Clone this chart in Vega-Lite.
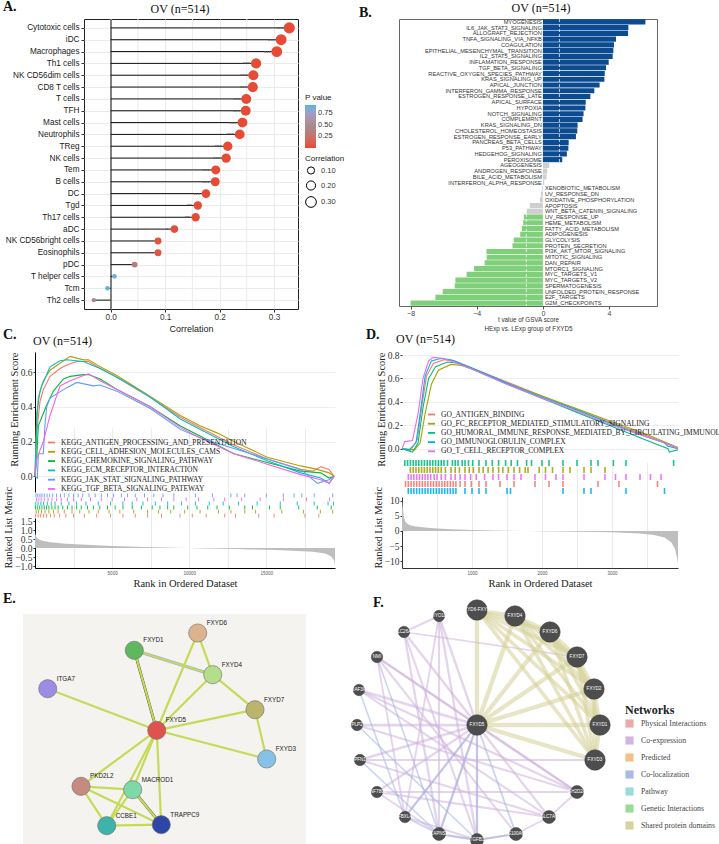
{
"$schema": "https://vega.github.io/schema/vega-lite/v6.json",
"padding": {"left": 3, "top": 0, "right": 0, "bottom": 0},
"background": "white",
"config": {
  "view": {"stroke": null},
  "font": "Liberation Sans",
  "axis": {"labelFont": "Liberation Sans", "titleFont": "Liberation Sans", "titleFontWeight": "normal", "labelColor": "#333333", "titleColor": "#222222", "domainColor": "#333333", "tickColor": "#333333", "gridColor": "#ebebeb", "labelOverlap": false},
  "legend": {"labelFont": "Liberation Sans", "titleFont": "Liberation Sans", "titleFontWeight": "normal", "labelColor": "#333333", "titleColor": "#222222", "padding": 0},
  "title": {"font": "Liberation Serif", "fontWeight": "normal", "color": "#111111"}
},
"spacing": -7,
"resolve": {"scale": {"color": "independent", "fill": "independent", "stroke": "independent", "strokeWidth": "independent", "size": "independent"}},
"datasets": {
  "cells": [
    {"cell": "Cytotoxic cells", "cor": 0.328, "p": 0.005, "sig": "***"},
    {"cell": "iDC", "cor": 0.313, "p": 0.005, "sig": "***"},
    {"cell": "Macrophages", "cor": 0.305, "p": 0.005, "sig": "***"},
    {"cell": "Th1 cells", "cor": 0.267, "p": 0.005, "sig": "***"},
    {"cell": "NK CD56dim cells", "cor": 0.262, "p": 0.005, "sig": "***"},
    {"cell": "CD8 T cells", "cor": 0.261, "p": 0.005, "sig": "***"},
    {"cell": "T cells", "cor": 0.249, "p": 0.005, "sig": "***"},
    {"cell": "TFH", "cor": 0.248, "p": 0.005, "sig": "***"},
    {"cell": "Mast cells", "cor": 0.242, "p": 0.005, "sig": "***"},
    {"cell": "Neutrophils", "cor": 0.237, "p": 0.005, "sig": "***"},
    {"cell": "TReg", "cor": 0.215, "p": 0.005, "sig": "***"},
    {"cell": "NK cells", "cor": 0.212, "p": 0.005, "sig": "***"},
    {"cell": "Tem", "cor": 0.193, "p": 0.005, "sig": "***"},
    {"cell": "B cells", "cor": 0.192, "p": 0.005, "sig": "***"},
    {"cell": "DC", "cor": 0.175, "p": 0.005, "sig": "***"},
    {"cell": "Tgd", "cor": 0.16, "p": 0.006, "sig": "**"},
    {"cell": "Th17 cells", "cor": 0.156, "p": 0.007, "sig": "**"},
    {"cell": "aDC", "cor": 0.117, "p": 0.02, "sig": "*"},
    {"cell": "NK CD56bright cells", "cor": 0.087, "p": 0.05, "sig": ""},
    {"cell": "Eosinophils", "cor": 0.087, "p": 0.05, "sig": ""},
    {"cell": "pDC", "cor": 0.044, "p": 0.32, "sig": ""},
    {"cell": "T helper cells", "cor": 0.007, "p": 0.87, "sig": ""},
    {"cell": "Tcm", "cor": -0.006, "p": 0.9, "sig": ""},
    {"cell": "Th2 cells", "cor": -0.031, "p": 0.47, "sig": ""}
  ],
  "minor": [{"v": 0.05}, {"v": 0.15}, {"v": 0.25}],
  "gsva": [
    {"name": "MYOGENESIS", "t": 6.2, "grp": "up"},
    {"name": "IL6_JAK_STAT3_SIGNALING", "t": 5.17, "grp": "up"},
    {"name": "ALLOGRAFT_REJECTION", "t": 5.15, "grp": "up"},
    {"name": "TNFA_SIGNALING_VIA_NFKB", "t": 4.42, "grp": "up"},
    {"name": "COAGULATION", "t": 4.3, "grp": "up"},
    {"name": "EPITHELIAL_MESENCHYMAL_TRANSITION", "t": 4.26, "grp": "up"},
    {"name": "IL2_STAT5_SIGNALING", "t": 4.22, "grp": "up"},
    {"name": "INFLAMATION_RESPONSE", "t": 3.98, "grp": "up"},
    {"name": "TGF_BETA_SIGNALING", "t": 3.82, "grp": "up"},
    {"name": "REACTIVE_OXYGEN_SPECIES_PATHWAY", "t": 3.74, "grp": "up"},
    {"name": "KRAS_SIGNALING_UP", "t": 3.72, "grp": "up"},
    {"name": "APICAL_JUNCTION", "t": 3.43, "grp": "up"},
    {"name": "INTERFERON_GAMMA_RESPONSE", "t": 3.11, "grp": "up"},
    {"name": "ESTROGEN_RESPONSE_LATE", "t": 2.87, "grp": "up"},
    {"name": "APICAL_SURFACE", "t": 2.59, "grp": "up"},
    {"name": "HYPOXIA", "t": 2.57, "grp": "up"},
    {"name": "NOTCH_SIGNALING", "t": 2.46, "grp": "up"},
    {"name": "COMPLEMRNT", "t": 2.4, "grp": "up"},
    {"name": "KRAS_SIGNALING_DN", "t": 2.1, "grp": "up"},
    {"name": "CHOLESTEROL_HOMEOSTASIS", "t": 2.08, "grp": "up"},
    {"name": "ESTROGEN_RESPONSE_EARLY", "t": 2.0, "grp": "up"},
    {"name": "PANCREAS_BETA_CELLS", "t": 1.56, "grp": "up"},
    {"name": "P53_PATHWAY", "t": 1.54, "grp": "up"},
    {"name": "HEDGEHOG_SIGNALING", "t": 1.45, "grp": "up"},
    {"name": "PEROXISOME", "t": 1.17, "grp": "up"},
    {"name": "AGEOGENESIS", "t": 0.38, "grp": "ns"},
    {"name": "ANDROGEN_RESPONSE", "t": 0.26, "grp": "ns"},
    {"name": "BILE_ACID_METABOLISM", "t": 0.22, "grp": "ns"},
    {"name": "INTERFERON_ALPHA_RESPONSE", "t": 0.08, "grp": "ns"},
    {"name": "XENOBIOTIC_METABOLISM", "t": -0.04, "grp": "ns"},
    {"name": "UV_RESPONSE_DN", "t": -0.12, "grp": "ns"},
    {"name": "OXIDATIVE_PHOSPHORYLATION", "t": -0.18, "grp": "ns"},
    {"name": "APOPTOSIS", "t": -0.79, "grp": "ns"},
    {"name": "WNT_BETA_CATENIN_SIGNALING", "t": -0.99, "grp": "ns"},
    {"name": "UV_RESPONSE_UP", "t": -1.15, "grp": "down"},
    {"name": "HEME_METABOLISM", "t": -1.19, "grp": "down"},
    {"name": "FATTY_ACID_METABOLISM", "t": -1.27, "grp": "down"},
    {"name": "ADIPOGENESIS", "t": -1.37, "grp": "down"},
    {"name": "GLYCOLYSIS", "t": -1.76, "grp": "down"},
    {"name": "PROTEIN_SECRETION", "t": -1.84, "grp": "down"},
    {"name": "PI3K_AKT_MTOR_SIGNALING", "t": -3.41, "grp": "down"},
    {"name": "MITOTIC_SIGNALING", "t": -3.4, "grp": "down"},
    {"name": "DAN_REPAIR", "t": -3.52, "grp": "down"},
    {"name": "MTORC1_SIGNALING", "t": -4.16, "grp": "down"},
    {"name": "MYC_TARGETS_V1", "t": -4.61, "grp": "down"},
    {"name": "MYC_TARGETS_V2", "t": -5.29, "grp": "down"},
    {"name": "SPERMATOGENESIS", "t": -5.33, "grp": "down"},
    {"name": "UNFOLDED_PROTEIN_RESPONSE", "t": -6.06, "grp": "down"},
    {"name": "E2F_TARGETS", "t": -6.5, "grp": "down"},
    {"name": "G2M_CHECKPOINTS", "t": -8.0, "grp": "down"}
  ],
  "ces": [
    {"set": "KEGG_ANTIGEN_PROCESSING_AND_PRESENTATION", "rank": 0, "es": 0},
    {"set": "KEGG_ANTIGEN_PROCESSING_AND_PRESENTATION", "rank": 108, "es": 0.25},
    {"set": "KEGG_ANTIGEN_PROCESSING_AND_PRESENTATION", "rank": 325, "es": 0.43},
    {"set": "KEGG_ANTIGEN_PROCESSING_AND_PRESENTATION", "rank": 542, "es": 0.5},
    {"set": "KEGG_ANTIGEN_PROCESSING_AND_PRESENTATION", "rank": 975, "es": 0.575},
    {"set": "KEGG_ANTIGEN_PROCESSING_AND_PRESENTATION", "rank": 1625, "es": 0.62},
    {"set": "KEGG_ANTIGEN_PROCESSING_AND_PRESENTATION", "rank": 2058, "es": 0.64},
    {"set": "KEGG_ANTIGEN_PROCESSING_AND_PRESENTATION", "rank": 2708, "es": 0.66},
    {"set": "KEGG_ANTIGEN_PROCESSING_AND_PRESENTATION", "rank": 3467, "es": 0.66},
    {"set": "KEGG_ANTIGEN_PROCESSING_AND_PRESENTATION", "rank": 4225, "es": 0.62},
    {"set": "KEGG_ANTIGEN_PROCESSING_AND_PRESENTATION", "rank": 5308, "es": 0.57},
    {"set": "KEGG_ANTIGEN_PROCESSING_AND_PRESENTATION", "rank": 6392, "es": 0.51},
    {"set": "KEGG_ANTIGEN_PROCESSING_AND_PRESENTATION", "rank": 7475, "es": 0.455},
    {"set": "KEGG_ANTIGEN_PROCESSING_AND_PRESENTATION", "rank": 9425, "es": 0.34},
    {"set": "KEGG_ANTIGEN_PROCESSING_AND_PRESENTATION", "rank": 10725, "es": 0.28},
    {"set": "KEGG_ANTIGEN_PROCESSING_AND_PRESENTATION", "rank": 12892, "es": 0.18},
    {"set": "KEGG_ANTIGEN_PROCESSING_AND_PRESENTATION", "rank": 15058, "es": 0.1},
    {"set": "KEGG_ANTIGEN_PROCESSING_AND_PRESENTATION", "rank": 17225, "es": 0.04},
    {"set": "KEGG_ANTIGEN_PROCESSING_AND_PRESENTATION", "rank": 18000, "es": 0.03},
    {"set": "KEGG_ANTIGEN_PROCESSING_AND_PRESENTATION", "rank": 18525, "es": 0.055},
    {"set": "KEGG_ANTIGEN_PROCESSING_AND_PRESENTATION", "rank": 19067, "es": 0.04},
    {"set": "KEGG_ANTIGEN_PROCESSING_AND_PRESENTATION", "rank": 19392, "es": 0.0},
    {"set": "KEGG_CELL_ADHESION_MOLECULES_CAMS", "rank": 0, "es": 0},
    {"set": "KEGG_CELL_ADHESION_MOLECULES_CAMS", "rank": 108, "es": 0.36},
    {"set": "KEGG_CELL_ADHESION_MOLECULES_CAMS", "rank": 325, "es": 0.49},
    {"set": "KEGG_CELL_ADHESION_MOLECULES_CAMS", "rank": 542, "es": 0.55},
    {"set": "KEGG_CELL_ADHESION_MOLECULES_CAMS", "rank": 975, "es": 0.61},
    {"set": "KEGG_CELL_ADHESION_MOLECULES_CAMS", "rank": 1625, "es": 0.65},
    {"set": "KEGG_CELL_ADHESION_MOLECULES_CAMS", "rank": 2275, "es": 0.69},
    {"set": "KEGG_CELL_ADHESION_MOLECULES_CAMS", "rank": 3142, "es": 0.67},
    {"set": "KEGG_CELL_ADHESION_MOLECULES_CAMS", "rank": 3467, "es": 0.67},
    {"set": "KEGG_CELL_ADHESION_MOLECULES_CAMS", "rank": 4225, "es": 0.63},
    {"set": "KEGG_CELL_ADHESION_MOLECULES_CAMS", "rank": 5308, "es": 0.58},
    {"set": "KEGG_CELL_ADHESION_MOLECULES_CAMS", "rank": 6392, "es": 0.52},
    {"set": "KEGG_CELL_ADHESION_MOLECULES_CAMS", "rank": 7475, "es": 0.46},
    {"set": "KEGG_CELL_ADHESION_MOLECULES_CAMS", "rank": 9425, "es": 0.35},
    {"set": "KEGG_CELL_ADHESION_MOLECULES_CAMS", "rank": 10725, "es": 0.29},
    {"set": "KEGG_CELL_ADHESION_MOLECULES_CAMS", "rank": 11800, "es": 0.25},
    {"set": "KEGG_CELL_ADHESION_MOLECULES_CAMS", "rank": 12892, "es": 0.2},
    {"set": "KEGG_CELL_ADHESION_MOLECULES_CAMS", "rank": 15058, "es": 0.11},
    {"set": "KEGG_CELL_ADHESION_MOLECULES_CAMS", "rank": 17225, "es": 0.06},
    {"set": "KEGG_CELL_ADHESION_MOLECULES_CAMS", "rank": 18308, "es": 0.04},
    {"set": "KEGG_CELL_ADHESION_MOLECULES_CAMS", "rank": 19067, "es": 0.02},
    {"set": "KEGG_CELL_ADHESION_MOLECULES_CAMS", "rank": 19392, "es": 0.0},
    {"set": "KEGG_CHEMOKINE_SIGNALING_PATHWAY", "rank": 0, "es": 0},
    {"set": "KEGG_CHEMOKINE_SIGNALING_PATHWAY", "rank": 108, "es": 0.1},
    {"set": "KEGG_CHEMOKINE_SIGNALING_PATHWAY", "rank": 217, "es": 0.29},
    {"set": "KEGG_CHEMOKINE_SIGNALING_PATHWAY", "rank": 758, "es": 0.41},
    {"set": "KEGG_CHEMOKINE_SIGNALING_PATHWAY", "rank": 1192, "es": 0.49},
    {"set": "KEGG_CHEMOKINE_SIGNALING_PATHWAY", "rank": 1842, "es": 0.56},
    {"set": "KEGG_CHEMOKINE_SIGNALING_PATHWAY", "rank": 2275, "es": 0.575},
    {"set": "KEGG_CHEMOKINE_SIGNALING_PATHWAY", "rank": 3142, "es": 0.585},
    {"set": "KEGG_CHEMOKINE_SIGNALING_PATHWAY", "rank": 3467, "es": 0.585},
    {"set": "KEGG_CHEMOKINE_SIGNALING_PATHWAY", "rank": 4225, "es": 0.56},
    {"set": "KEGG_CHEMOKINE_SIGNALING_PATHWAY", "rank": 5308, "es": 0.5},
    {"set": "KEGG_CHEMOKINE_SIGNALING_PATHWAY", "rank": 6392, "es": 0.45},
    {"set": "KEGG_CHEMOKINE_SIGNALING_PATHWAY", "rank": 7475, "es": 0.4},
    {"set": "KEGG_CHEMOKINE_SIGNALING_PATHWAY", "rank": 9425, "es": 0.29},
    {"set": "KEGG_CHEMOKINE_SIGNALING_PATHWAY", "rank": 10725, "es": 0.23},
    {"set": "KEGG_CHEMOKINE_SIGNALING_PATHWAY", "rank": 12892, "es": 0.13},
    {"set": "KEGG_CHEMOKINE_SIGNALING_PATHWAY", "rank": 15058, "es": 0.08},
    {"set": "KEGG_CHEMOKINE_SIGNALING_PATHWAY", "rank": 17225, "es": 0.03},
    {"set": "KEGG_CHEMOKINE_SIGNALING_PATHWAY", "rank": 18525, "es": 0.02},
    {"set": "KEGG_CHEMOKINE_SIGNALING_PATHWAY", "rank": 19067, "es": -0.01},
    {"set": "KEGG_CHEMOKINE_SIGNALING_PATHWAY", "rank": 19392, "es": 0.0},
    {"set": "KEGG_ECM_RECEPTOR_INTERACTION", "rank": 0, "es": 0},
    {"set": "KEGG_ECM_RECEPTOR_INTERACTION", "rank": 108, "es": 0.3},
    {"set": "KEGG_ECM_RECEPTOR_INTERACTION", "rank": 217, "es": 0.45},
    {"set": "KEGG_ECM_RECEPTOR_INTERACTION", "rank": 433, "es": 0.52},
    {"set": "KEGG_ECM_RECEPTOR_INTERACTION", "rank": 975, "es": 0.63},
    {"set": "KEGG_ECM_RECEPTOR_INTERACTION", "rank": 1625, "es": 0.665},
    {"set": "KEGG_ECM_RECEPTOR_INTERACTION", "rank": 2058, "es": 0.67},
    {"set": "KEGG_ECM_RECEPTOR_INTERACTION", "rank": 3142, "es": 0.66},
    {"set": "KEGG_ECM_RECEPTOR_INTERACTION", "rank": 4225, "es": 0.62},
    {"set": "KEGG_ECM_RECEPTOR_INTERACTION", "rank": 5308, "es": 0.57},
    {"set": "KEGG_ECM_RECEPTOR_INTERACTION", "rank": 6392, "es": 0.515},
    {"set": "KEGG_ECM_RECEPTOR_INTERACTION", "rank": 7475, "es": 0.455},
    {"set": "KEGG_ECM_RECEPTOR_INTERACTION", "rank": 9425, "es": 0.33},
    {"set": "KEGG_ECM_RECEPTOR_INTERACTION", "rank": 10725, "es": 0.27},
    {"set": "KEGG_ECM_RECEPTOR_INTERACTION", "rank": 12892, "es": 0.17},
    {"set": "KEGG_ECM_RECEPTOR_INTERACTION", "rank": 15058, "es": 0.09},
    {"set": "KEGG_ECM_RECEPTOR_INTERACTION", "rank": 17225, "es": 0.02},
    {"set": "KEGG_ECM_RECEPTOR_INTERACTION", "rank": 18525, "es": -0.01},
    {"set": "KEGG_ECM_RECEPTOR_INTERACTION", "rank": 19067, "es": -0.04},
    {"set": "KEGG_ECM_RECEPTOR_INTERACTION", "rank": 19392, "es": 0.0},
    {"set": "KEGG_JAK_STAT_SIGNALING_PATHWAY", "rank": 0, "es": 0},
    {"set": "KEGG_JAK_STAT_SIGNALING_PATHWAY", "rank": 150, "es": -0.01},
    {"set": "KEGG_JAK_STAT_SIGNALING_PATHWAY", "rank": 220, "es": 0.13},
    {"set": "KEGG_JAK_STAT_SIGNALING_PATHWAY", "rank": 540, "es": 0.13},
    {"set": "KEGG_JAK_STAT_SIGNALING_PATHWAY", "rank": 650, "es": 0.3},
    {"set": "KEGG_JAK_STAT_SIGNALING_PATHWAY", "rank": 758, "es": 0.4},
    {"set": "KEGG_JAK_STAT_SIGNALING_PATHWAY", "rank": 975, "es": 0.45},
    {"set": "KEGG_JAK_STAT_SIGNALING_PATHWAY", "rank": 2058, "es": 0.51},
    {"set": "KEGG_JAK_STAT_SIGNALING_PATHWAY", "rank": 2708, "es": 0.54},
    {"set": "KEGG_JAK_STAT_SIGNALING_PATHWAY", "rank": 3792, "es": 0.52},
    {"set": "KEGG_JAK_STAT_SIGNALING_PATHWAY", "rank": 4225, "es": 0.525},
    {"set": "KEGG_JAK_STAT_SIGNALING_PATHWAY", "rank": 5308, "es": 0.49},
    {"set": "KEGG_JAK_STAT_SIGNALING_PATHWAY", "rank": 6392, "es": 0.44},
    {"set": "KEGG_JAK_STAT_SIGNALING_PATHWAY", "rank": 7475, "es": 0.39},
    {"set": "KEGG_JAK_STAT_SIGNALING_PATHWAY", "rank": 9425, "es": 0.27},
    {"set": "KEGG_JAK_STAT_SIGNALING_PATHWAY", "rank": 10725, "es": 0.22},
    {"set": "KEGG_JAK_STAT_SIGNALING_PATHWAY", "rank": 12892, "es": 0.16},
    {"set": "KEGG_JAK_STAT_SIGNALING_PATHWAY", "rank": 15058, "es": 0.1},
    {"set": "KEGG_JAK_STAT_SIGNALING_PATHWAY", "rank": 17225, "es": 0.04},
    {"set": "KEGG_JAK_STAT_SIGNALING_PATHWAY", "rank": 18308, "es": -0.04},
    {"set": "KEGG_JAK_STAT_SIGNALING_PATHWAY", "rank": 19067, "es": -0.02},
    {"set": "KEGG_JAK_STAT_SIGNALING_PATHWAY", "rank": 19392, "es": 0.0},
    {"set": "KEGG_TGF_BETA_SIGNALING_PATEWAY", "rank": 0, "es": 0},
    {"set": "KEGG_TGF_BETA_SIGNALING_PATEWAY", "rank": 108, "es": 0.1},
    {"set": "KEGG_TGF_BETA_SIGNALING_PATEWAY", "rank": 542, "es": 0.2},
    {"set": "KEGG_TGF_BETA_SIGNALING_PATEWAY", "rank": 975, "es": 0.35},
    {"set": "KEGG_TGF_BETA_SIGNALING_PATEWAY", "rank": 1625, "es": 0.52},
    {"set": "KEGG_TGF_BETA_SIGNALING_PATEWAY", "rank": 2275, "es": 0.55},
    {"set": "KEGG_TGF_BETA_SIGNALING_PATEWAY", "rank": 3142, "es": 0.58},
    {"set": "KEGG_TGF_BETA_SIGNALING_PATEWAY", "rank": 3467, "es": 0.59},
    {"set": "KEGG_TGF_BETA_SIGNALING_PATEWAY", "rank": 4225, "es": 0.55},
    {"set": "KEGG_TGF_BETA_SIGNALING_PATEWAY", "rank": 5308, "es": 0.5},
    {"set": "KEGG_TGF_BETA_SIGNALING_PATEWAY", "rank": 6392, "es": 0.45},
    {"set": "KEGG_TGF_BETA_SIGNALING_PATEWAY", "rank": 7475, "es": 0.4},
    {"set": "KEGG_TGF_BETA_SIGNALING_PATEWAY", "rank": 9425, "es": 0.28},
    {"set": "KEGG_TGF_BETA_SIGNALING_PATEWAY", "rank": 10725, "es": 0.22},
    {"set": "KEGG_TGF_BETA_SIGNALING_PATEWAY", "rank": 12892, "es": 0.13},
    {"set": "KEGG_TGF_BETA_SIGNALING_PATEWAY", "rank": 15058, "es": 0.07},
    {"set": "KEGG_TGF_BETA_SIGNALING_PATEWAY", "rank": 17225, "es": 0.01},
    {"set": "KEGG_TGF_BETA_SIGNALING_PATEWAY", "rank": 18525, "es": -0.02},
    {"set": "KEGG_TGF_BETA_SIGNALING_PATEWAY", "rank": 19067, "es": -0.04},
    {"set": "KEGG_TGF_BETA_SIGNALING_PATEWAY", "rank": 19392, "es": 0.0}
  ],
  "chits": [
    {"s": "B", "r": 60}, {"s": "B", "r": 180}, {"s": "B", "r": 320}, {"s": "B", "r": 450}, {"s": "B", "r": 600}, {"s": "B", "r": 780}, {"s": "B", "r": 950}, {"s": "B", "r": 1150}, {"s": "B", "r": 1400}, {"s": "B", "r": 1650}, {"s": "B", "r": 1900}, {"s": "B", "r": 2200}, {"s": "B", "r": 2500}, {"s": "B", "r": 2800}, {"s": "B", "r": 3100}, {"s": "B", "r": 3500}, {"s": "B", "r": 3900}, {"s": "B", "r": 4300}, {"s": "B", "r": 4700}, {"s": "B", "r": 5100}, {"s": "B", "r": 5600}, {"s": "B", "r": 6000}, {"s": "B", "r": 6500}, {"s": "B", "r": 7100}, {"s": "B", "r": 7700}, {"s": "B", "r": 8300}, {"s": "B", "r": 9000}, {"s": "B", "r": 10400}, {"s": "B", "r": 11500}, {"s": "B", "r": 12700}, {"s": "B", "r": 13100}, {"s": "B", "r": 13600}, {"s": "B", "r": 15000}, {"s": "B", "r": 16100}, {"s": "B", "r": 16800}, {"s": "B", "r": 17300}, {"s": "B", "r": 18100}, {"s": "B", "r": 19300},
    {"s": "M", "r": 100}, {"s": "M", "r": 250}, {"s": "M", "r": 400}, {"s": "M", "r": 600}, {"s": "M", "r": 850}, {"s": "M", "r": 1100}, {"s": "M", "r": 1400}, {"s": "M", "r": 1700}, {"s": "M", "r": 2100}, {"s": "M", "r": 2500}, {"s": "M", "r": 3000}, {"s": "M", "r": 3600}, {"s": "M", "r": 4300}, {"s": "M", "r": 5000}, {"s": "M", "r": 5800}, {"s": "M", "r": 6600}, {"s": "M", "r": 7300}, {"s": "M", "r": 8200}, {"s": "M", "r": 9000}, {"s": "M", "r": 9800}, {"s": "M", "r": 10600}, {"s": "M", "r": 11600}, {"s": "M", "r": 12300}, {"s": "M", "r": 13400}, {"s": "M", "r": 14600}, {"s": "M", "r": 16100}, {"s": "M", "r": 17600}, {"s": "M", "r": 19100},
    {"s": "C", "r": 50}, {"s": "C", "r": 200}, {"s": "C", "r": 380}, {"s": "C", "r": 560}, {"s": "C", "r": 800}, {"s": "C", "r": 1050}, {"s": "C", "r": 1300}, {"s": "C", "r": 1700}, {"s": "C", "r": 2200}, {"s": "C", "r": 2700}, {"s": "C", "r": 3300}, {"s": "C", "r": 4100}, {"s": "C", "r": 4900}, {"s": "C", "r": 5700}, {"s": "C", "r": 6300}, {"s": "C", "r": 7000}, {"s": "C", "r": 7800}, {"s": "C", "r": 8600}, {"s": "C", "r": 9500}, {"s": "C", "r": 10400}, {"s": "C", "r": 11300}, {"s": "C", "r": 12200}, {"s": "C", "r": 13200}, {"s": "C", "r": 14400}, {"s": "C", "r": 15900}, {"s": "C", "r": 17000}, {"s": "C", "r": 18100}, {"s": "C", "r": 19000}, {"s": "C", "r": 19350},
    {"s": "G", "r": 30}, {"s": "G", "r": 150}, {"s": "G", "r": 300}, {"s": "G", "r": 450}, {"s": "G", "r": 600}, {"s": "G", "r": 750}, {"s": "G", "r": 900}, {"s": "G", "r": 1100}, {"s": "G", "r": 1300}, {"s": "G", "r": 1500}, {"s": "G", "r": 1800}, {"s": "G", "r": 2100}, {"s": "G", "r": 2400}, {"s": "G", "r": 2700}, {"s": "G", "r": 3000}, {"s": "G", "r": 3400}, {"s": "G", "r": 3800}, {"s": "G", "r": 4200}, {"s": "G", "r": 4700}, {"s": "G", "r": 5200}, {"s": "G", "r": 5700}, {"s": "G", "r": 6300}, {"s": "G", "r": 6900}, {"s": "G", "r": 7600}, {"s": "G", "r": 8100}, {"s": "G", "r": 8600}, {"s": "G", "r": 9000}, {"s": "G", "r": 9900}, {"s": "G", "r": 10500}, {"s": "G", "r": 11200}, {"s": "G", "r": 11800}, {"s": "G", "r": 12600}, {"s": "G", "r": 13600}, {"s": "G", "r": 14100}, {"s": "G", "r": 15200}, {"s": "G", "r": 15900}, {"s": "G", "r": 17100}, {"s": "G", "r": 18300}, {"s": "G", "r": 19200},
    {"s": "Y", "r": 80}, {"s": "Y", "r": 230}, {"s": "Y", "r": 420}, {"s": "Y", "r": 650}, {"s": "Y", "r": 900}, {"s": "Y", "r": 1200}, {"s": "Y", "r": 1500}, {"s": "Y", "r": 1900}, {"s": "Y", "r": 2400}, {"s": "Y", "r": 2900}, {"s": "Y", "r": 3500}, {"s": "Y", "r": 4100}, {"s": "Y", "r": 4800}, {"s": "Y", "r": 5500}, {"s": "Y", "r": 6400}, {"s": "Y", "r": 7300}, {"s": "Y", "r": 8000}, {"s": "Y", "r": 8800}, {"s": "Y", "r": 9700}, {"s": "Y", "r": 10700}, {"s": "Y", "r": 11900}, {"s": "Y", "r": 12700}, {"s": "Y", "r": 13600}, {"s": "Y", "r": 14300}, {"s": "Y", "r": 16000}, {"s": "Y", "r": 17400}, {"s": "Y", "r": 18500}, {"s": "Y", "r": 19300},
    {"s": "R", "r": 40}, {"s": "R", "r": 200}, {"s": "R", "r": 350}, {"s": "R", "r": 550}, {"s": "R", "r": 750}, {"s": "R", "r": 1000}, {"s": "R", "r": 1250}, {"s": "R", "r": 1600}, {"s": "R", "r": 2000}, {"s": "R", "r": 2500}, {"s": "R", "r": 3200}, {"s": "R", "r": 4000}, {"s": "R", "r": 4900}, {"s": "R", "r": 5700}, {"s": "R", "r": 6500}, {"s": "R", "r": 7300}, {"s": "R", "r": 8200}, {"s": "R", "r": 9400}, {"s": "R", "r": 10200}, {"s": "R", "r": 11100}, {"s": "R", "r": 12300}, {"s": "R", "r": 13000}, {"s": "R", "r": 14500}, {"s": "R", "r": 15500}, {"s": "R", "r": 17500}, {"s": "R", "r": 18400}
  ],
  "cmet": [
    {"rank": 0, "m": 0.92}, {"rank": 30, "m": 0.75}, {"rank": 100, "m": 0.6}, {"rank": 250, "m": 0.48}, {"rank": 500, "m": 0.4}, {"rank": 1000, "m": 0.32}, {"rank": 2000, "m": 0.24}, {"rank": 3000, "m": 0.19}, {"rank": 4000, "m": 0.15}, {"rank": 5000, "m": 0.12}, {"rank": 6000, "m": 0.09}, {"rank": 7000, "m": 0.06}, {"rank": 8000, "m": 0.04}, {"rank": 9000, "m": 0.02}, {"rank": 10000, "m": 0.0}, {"rank": 11000, "m": -0.02}, {"rank": 12000, "m": -0.04}, {"rank": 13000, "m": -0.06}, {"rank": 14000, "m": -0.08}, {"rank": 15000, "m": -0.1}, {"rank": 16000, "m": -0.13}, {"rank": 17000, "m": -0.16}, {"rank": 18000, "m": -0.21}, {"rank": 18800, "m": -0.3}, {"rank": 19200, "m": -0.45}, {"rank": 19400, "m": -0.7}, {"rank": 19450, "m": -0.95}
  ],
  "des": [
    {"set": "GO_ANTIGEN_BINDING", "rank": 0, "es": 0}, {"set": "GO_ANTIGEN_BINDING", "rank": 120, "es": -0.02}, {"set": "GO_ANTIGEN_BINDING", "rank": 220, "es": 0.08}, {"set": "GO_ANTIGEN_BINDING", "rank": 280, "es": 0.35}, {"set": "GO_ANTIGEN_BINDING", "rank": 350, "es": 0.62}, {"set": "GO_ANTIGEN_BINDING", "rank": 450, "es": 0.73}, {"set": "GO_ANTIGEN_BINDING", "rank": 600, "es": 0.76}, {"set": "GO_ANTIGEN_BINDING", "rank": 750, "es": 0.75}, {"set": "GO_ANTIGEN_BINDING", "rank": 1000, "es": 0.69}, {"set": "GO_ANTIGEN_BINDING", "rank": 1500, "es": 0.57}, {"set": "GO_ANTIGEN_BINDING", "rank": 2000, "es": 0.45}, {"set": "GO_ANTIGEN_BINDING", "rank": 2500, "es": 0.33}, {"set": "GO_ANTIGEN_BINDING", "rank": 3000, "es": 0.22}, {"set": "GO_ANTIGEN_BINDING", "rank": 3500, "es": 0.11}, {"set": "GO_ANTIGEN_BINDING", "rank": 3943, "es": 0.0},
    {"set": "GO_FC_RECEPTOR_MEDIATED_STIMULATORY_SIGNALING", "rank": 0, "es": 0}, {"set": "GO_FC_RECEPTOR_MEDIATED_STIMULATORY_SIGNALING", "rank": 180, "es": -0.01}, {"set": "GO_FC_RECEPTOR_MEDIATED_STIMULATORY_SIGNALING", "rank": 260, "es": 0.05}, {"set": "GO_FC_RECEPTOR_MEDIATED_STIMULATORY_SIGNALING", "rank": 330, "es": 0.3}, {"set": "GO_FC_RECEPTOR_MEDIATED_STIMULATORY_SIGNALING", "rank": 420, "es": 0.55}, {"set": "GO_FC_RECEPTOR_MEDIATED_STIMULATORY_SIGNALING", "rank": 520, "es": 0.67}, {"set": "GO_FC_RECEPTOR_MEDIATED_STIMULATORY_SIGNALING", "rank": 700, "es": 0.72}, {"set": "GO_FC_RECEPTOR_MEDIATED_STIMULATORY_SIGNALING", "rank": 850, "es": 0.71}, {"set": "GO_FC_RECEPTOR_MEDIATED_STIMULATORY_SIGNALING", "rank": 1000, "es": 0.68}, {"set": "GO_FC_RECEPTOR_MEDIATED_STIMULATORY_SIGNALING", "rank": 1500, "es": 0.56}, {"set": "GO_FC_RECEPTOR_MEDIATED_STIMULATORY_SIGNALING", "rank": 2000, "es": 0.45}, {"set": "GO_FC_RECEPTOR_MEDIATED_STIMULATORY_SIGNALING", "rank": 2500, "es": 0.34}, {"set": "GO_FC_RECEPTOR_MEDIATED_STIMULATORY_SIGNALING", "rank": 3000, "es": 0.23}, {"set": "GO_FC_RECEPTOR_MEDIATED_STIMULATORY_SIGNALING", "rank": 3500, "es": 0.12}, {"set": "GO_FC_RECEPTOR_MEDIATED_STIMULATORY_SIGNALING", "rank": 3943, "es": 0.01},
    {"set": "GO_HUMORAL_IMMUNE_RESPONSE_MEDIATED_BY_CIRCULATING_IMMUNOL", "rank": 0, "es": 0}, {"set": "GO_HUMORAL_IMMUNE_RESPONSE_MEDIATED_BY_CIRCULATING_IMMUNOL", "rank": 150, "es": -0.03}, {"set": "GO_HUMORAL_IMMUNE_RESPONSE_MEDIATED_BY_CIRCULATING_IMMUNOL", "rank": 230, "es": 0.05}, {"set": "GO_HUMORAL_IMMUNE_RESPONSE_MEDIATED_BY_CIRCULATING_IMMUNOL", "rank": 300, "es": 0.35}, {"set": "GO_HUMORAL_IMMUNE_RESPONSE_MEDIATED_BY_CIRCULATING_IMMUNOL", "rank": 380, "es": 0.6}, {"set": "GO_HUMORAL_IMMUNE_RESPONSE_MEDIATED_BY_CIRCULATING_IMMUNOL", "rank": 480, "es": 0.7}, {"set": "GO_HUMORAL_IMMUNE_RESPONSE_MEDIATED_BY_CIRCULATING_IMMUNOL", "rank": 650, "es": 0.74}, {"set": "GO_HUMORAL_IMMUNE_RESPONSE_MEDIATED_BY_CIRCULATING_IMMUNOL", "rank": 800, "es": 0.73}, {"set": "GO_HUMORAL_IMMUNE_RESPONSE_MEDIATED_BY_CIRCULATING_IMMUNOL", "rank": 1000, "es": 0.68}, {"set": "GO_HUMORAL_IMMUNE_RESPONSE_MEDIATED_BY_CIRCULATING_IMMUNOL", "rank": 1500, "es": 0.55}, {"set": "GO_HUMORAL_IMMUNE_RESPONSE_MEDIATED_BY_CIRCULATING_IMMUNOL", "rank": 2000, "es": 0.43}, {"set": "GO_HUMORAL_IMMUNE_RESPONSE_MEDIATED_BY_CIRCULATING_IMMUNOL", "rank": 2500, "es": 0.31}, {"set": "GO_HUMORAL_IMMUNE_RESPONSE_MEDIATED_BY_CIRCULATING_IMMUNOL", "rank": 3000, "es": 0.19}, {"set": "GO_HUMORAL_IMMUNE_RESPONSE_MEDIATED_BY_CIRCULATING_IMMUNOL", "rank": 3500, "es": 0.07}, {"set": "GO_HUMORAL_IMMUNE_RESPONSE_MEDIATED_BY_CIRCULATING_IMMUNOL", "rank": 3800, "es": 0.0}, {"set": "GO_HUMORAL_IMMUNE_RESPONSE_MEDIATED_BY_CIRCULATING_IMMUNOL", "rank": 3820, "es": -0.03}, {"set": "GO_HUMORAL_IMMUNE_RESPONSE_MEDIATED_BY_CIRCULATING_IMMUNOL", "rank": 3943, "es": -0.01},
    {"set": "GO_IMMUNOGLOBULIN_COMPLEX", "rank": 0, "es": 0}, {"set": "GO_IMMUNOGLOBULIN_COMPLEX", "rank": 100, "es": -0.01}, {"set": "GO_IMMUNOGLOBULIN_COMPLEX", "rank": 200, "es": 0.05}, {"set": "GO_IMMUNOGLOBULIN_COMPLEX", "rank": 260, "es": 0.3}, {"set": "GO_IMMUNOGLOBULIN_COMPLEX", "rank": 330, "es": 0.62}, {"set": "GO_IMMUNOGLOBULIN_COMPLEX", "rank": 420, "es": 0.75}, {"set": "GO_IMMUNOGLOBULIN_COMPLEX", "rank": 550, "es": 0.77}, {"set": "GO_IMMUNOGLOBULIN_COMPLEX", "rank": 700, "es": 0.76}, {"set": "GO_IMMUNOGLOBULIN_COMPLEX", "rank": 1000, "es": 0.69}, {"set": "GO_IMMUNOGLOBULIN_COMPLEX", "rank": 1500, "es": 0.56}, {"set": "GO_IMMUNOGLOBULIN_COMPLEX", "rank": 2000, "es": 0.44}, {"set": "GO_IMMUNOGLOBULIN_COMPLEX", "rank": 2500, "es": 0.33}, {"set": "GO_IMMUNOGLOBULIN_COMPLEX", "rank": 3000, "es": 0.21}, {"set": "GO_IMMUNOGLOBULIN_COMPLEX", "rank": 3500, "es": 0.1}, {"set": "GO_IMMUNOGLOBULIN_COMPLEX", "rank": 3750, "es": 0.05}, {"set": "GO_IMMUNOGLOBULIN_COMPLEX", "rank": 3800, "es": 0.02}, {"set": "GO_IMMUNOGLOBULIN_COMPLEX", "rank": 3943, "es": 0.0},
    {"set": "GO_T_CELL_RECEPTOR_COMPLEX", "rank": 0, "es": 0}, {"set": "GO_T_CELL_RECEPTOR_COMPLEX", "rank": 40, "es": 0.06}, {"set": "GO_T_CELL_RECEPTOR_COMPLEX", "rank": 150, "es": 0.07}, {"set": "GO_T_CELL_RECEPTOR_COMPLEX", "rank": 230, "es": 0.3}, {"set": "GO_T_CELL_RECEPTOR_COMPLEX", "rank": 300, "es": 0.6}, {"set": "GO_T_CELL_RECEPTOR_COMPLEX", "rank": 380, "es": 0.75}, {"set": "GO_T_CELL_RECEPTOR_COMPLEX", "rank": 450, "es": 0.78}, {"set": "GO_T_CELL_RECEPTOR_COMPLEX", "rank": 600, "es": 0.77}, {"set": "GO_T_CELL_RECEPTOR_COMPLEX", "rank": 1000, "es": 0.68}, {"set": "GO_T_CELL_RECEPTOR_COMPLEX", "rank": 1500, "es": 0.55}, {"set": "GO_T_CELL_RECEPTOR_COMPLEX", "rank": 2000, "es": 0.43}, {"set": "GO_T_CELL_RECEPTOR_COMPLEX", "rank": 2500, "es": 0.32}, {"set": "GO_T_CELL_RECEPTOR_COMPLEX", "rank": 3000, "es": 0.2}, {"set": "GO_T_CELL_RECEPTOR_COMPLEX", "rank": 3500, "es": 0.1}, {"set": "GO_T_CELL_RECEPTOR_COMPLEX", "rank": 3800, "es": 0.04}, {"set": "GO_T_CELL_RECEPTOR_COMPLEX", "rank": 3943, "es": 0.0}
  ],
  "dhits": [
    {"s": "Gn", "r": 40}, {"s": "Gn", "r": 80}, {"s": "Gn", "r": 120}, {"s": "Gn", "r": 160}, {"s": "Gn", "r": 200}, {"s": "Gn", "r": 240}, {"s": "Gn", "r": 280}, {"s": "Gn", "r": 320}, {"s": "Gn", "r": 360}, {"s": "Gn", "r": 400}, {"s": "Gn", "r": 440}, {"s": "Gn", "r": 480}, {"s": "Gn", "r": 520}, {"s": "Gn", "r": 560}, {"s": "Gn", "r": 600}, {"s": "Gn", "r": 650}, {"s": "Gn", "r": 720}, {"s": "Gn", "r": 760}, {"s": "Gn", "r": 800}, {"s": "Gn", "r": 860}, {"s": "Gn", "r": 900}, {"s": "Gn", "r": 950}, {"s": "Gn", "r": 1010}, {"s": "Gn", "r": 1100}, {"s": "Gn", "r": 1200}, {"s": "Gn", "r": 1290}, {"s": "Gn", "r": 1380}, {"s": "Gn", "r": 1480}, {"s": "Gn", "r": 1560}, {"s": "Gn", "r": 1650}, {"s": "Gn", "r": 1780}, {"s": "Gn", "r": 1850}, {"s": "Gn", "r": 2000}, {"s": "Gn", "r": 2100}, {"s": "Gn", "r": 2300}, {"s": "Gn", "r": 2500}, {"s": "Gn", "r": 2700}, {"s": "Gn", "r": 2800}, {"s": "Gn", "r": 3020}, {"s": "Gn", "r": 3200}, {"s": "Gn", "r": 3880},
    {"s": "O", "r": 120}, {"s": "O", "r": 160}, {"s": "O", "r": 200}, {"s": "O", "r": 240}, {"s": "O", "r": 280}, {"s": "O", "r": 320}, {"s": "O", "r": 360}, {"s": "O", "r": 400}, {"s": "O", "r": 440}, {"s": "O", "r": 480}, {"s": "O", "r": 520}, {"s": "O", "r": 560}, {"s": "O", "r": 620}, {"s": "O", "r": 700}, {"s": "O", "r": 760}, {"s": "O", "r": 820}, {"s": "O", "r": 900}, {"s": "O", "r": 960}, {"s": "O", "r": 1020}, {"s": "O", "r": 1100}, {"s": "O", "r": 1160}, {"s": "O", "r": 1230}, {"s": "O", "r": 1300}, {"s": "O", "r": 1380}, {"s": "O", "r": 1440}, {"s": "O", "r": 1520}, {"s": "O", "r": 1600}, {"s": "O", "r": 1680}, {"s": "O", "r": 1760}, {"s": "O", "r": 1800}, {"s": "O", "r": 1960}, {"s": "O", "r": 2050}, {"s": "O", "r": 2150}, {"s": "O", "r": 2300}, {"s": "O", "r": 2400}, {"s": "O", "r": 2600}, {"s": "O", "r": 2700}, {"s": "O", "r": 2900},
    {"s": "Mg", "r": 90}, {"s": "Mg", "r": 130}, {"s": "Mg", "r": 170}, {"s": "Mg", "r": 210}, {"s": "Mg", "r": 250}, {"s": "Mg", "r": 290}, {"s": "Mg", "r": 330}, {"s": "Mg", "r": 370}, {"s": "Mg", "r": 410}, {"s": "Mg", "r": 460}, {"s": "Mg", "r": 500}, {"s": "Mg", "r": 560}, {"s": "Mg", "r": 620}, {"s": "Mg", "r": 700}, {"s": "Mg", "r": 760}, {"s": "Mg", "r": 830}, {"s": "Mg", "r": 900}, {"s": "Mg", "r": 980}, {"s": "Mg", "r": 1060}, {"s": "Mg", "r": 1180}, {"s": "Mg", "r": 1300}, {"s": "Mg", "r": 1380}, {"s": "Mg", "r": 1500}, {"s": "Mg", "r": 1600}, {"s": "Mg", "r": 1700}, {"s": "Mg", "r": 1900}, {"s": "Mg", "r": 2050}, {"s": "Mg", "r": 2200}, {"s": "Mg", "r": 2300}, {"s": "Mg", "r": 2600}, {"s": "Mg", "r": 2900}, {"s": "Mg", "r": 3050}, {"s": "Mg", "r": 3200}, {"s": "Mg", "r": 3400}, {"s": "Mg", "r": 3550}, {"s": "Mg", "r": 3700},
    {"s": "Rd", "r": 50}, {"s": "Rd", "r": 90}, {"s": "Rd", "r": 130}, {"s": "Rd", "r": 170}, {"s": "Rd", "r": 210}, {"s": "Rd", "r": 250}, {"s": "Rd", "r": 290}, {"s": "Rd", "r": 330}, {"s": "Rd", "r": 370}, {"s": "Rd", "r": 410}, {"s": "Rd", "r": 450}, {"s": "Rd", "r": 490}, {"s": "Rd", "r": 530}, {"s": "Rd", "r": 570}, {"s": "Rd", "r": 610}, {"s": "Rd", "r": 650}, {"s": "Rd", "r": 690}, {"s": "Rd", "r": 730}, {"s": "Rd", "r": 770}, {"s": "Rd", "r": 830}, {"s": "Rd", "r": 900}, {"s": "Rd", "r": 990}, {"s": "Rd", "r": 1100}, {"s": "Rd", "r": 1200}, {"s": "Rd", "r": 1400}, {"s": "Rd", "r": 1600}, {"s": "Rd", "r": 1900}, {"s": "Rd", "r": 2100}, {"s": "Rd", "r": 2300}, {"s": "Rd", "r": 2800}, {"s": "Rd", "r": 3100}, {"s": "Rd", "r": 3650},
    {"s": "Bl", "r": 90}, {"s": "Bl", "r": 130}, {"s": "Bl", "r": 170}, {"s": "Bl", "r": 210}, {"s": "Bl", "r": 250}, {"s": "Bl", "r": 290}, {"s": "Bl", "r": 330}, {"s": "Bl", "r": 370}, {"s": "Bl", "r": 410}, {"s": "Bl", "r": 450}, {"s": "Bl", "r": 490}, {"s": "Bl", "r": 530}, {"s": "Bl", "r": 570}, {"s": "Bl", "r": 610}, {"s": "Bl", "r": 650}, {"s": "Bl", "r": 690}, {"s": "Bl", "r": 730}, {"s": "Bl", "r": 770}, {"s": "Bl", "r": 900}, {"s": "Bl", "r": 1000}, {"s": "Bl", "r": 1100}, {"s": "Bl", "r": 1200}, {"s": "Bl", "r": 1500}, {"s": "Bl", "r": 1550}, {"s": "Bl", "r": 2300}, {"s": "Bl", "r": 2600}, {"s": "Bl", "r": 2700}, {"s": "Bl", "r": 3200}, {"s": "Bl", "r": 3750}
  ],
  "dmet": [
    {"rank": 0, "m": 10.5}, {"rank": 10, "m": 8}, {"rank": 25, "m": 5}, {"rank": 50, "m": 3}, {"rank": 100, "m": 2}, {"rank": 200, "m": 1.5}, {"rank": 400, "m": 1.0}, {"rank": 700, "m": 0.6}, {"rank": 1000, "m": 0.35}, {"rank": 1500, "m": 0.1}, {"rank": 2000, "m": -0.1}, {"rank": 2500, "m": -0.25}, {"rank": 3000, "m": -0.45}, {"rank": 3400, "m": -0.8}, {"rank": 3600, "m": -1.3}, {"rank": 3750, "m": -2.2}, {"rank": 3850, "m": -3.8}, {"rank": 3900, "m": -6}, {"rank": 3930, "m": -9}, {"rank": 3943, "m": -11}
  ],
  "enodes": [
    {"id": "FXYD6", "x": 174.7, "y": 19},
    {"id": "FXYD1", "x": 111.3, "y": 36.3},
    {"id": "FXYD4", "x": 189.7, "y": 60.7},
    {"id": "ITGA7", "x": 24.7, "y": 74.7},
    {"id": "FXYD7", "x": 232, "y": 95.7},
    {"id": "FXYD5", "x": 133.7, "y": 116.3},
    {"id": "FXYD3", "x": 243.7, "y": 145},
    {"id": "PKD2L2", "x": 58, "y": 172.3},
    {"id": "MACROD1", "x": 109.7, "y": 175.7},
    {"id": "CCBE1", "x": 83.7, "y": 211.7},
    {"id": "TRAPPC9", "x": 138.3, "y": 210.7}
  ],
  "eedges": [
    {"s": "FXYD1", "t": "FXYD4", "k": "ho"},
    {"s": "FXYD1", "t": "FXYD5", "k": "co"},
    {"s": "MACROD1", "t": "TRAPPC9", "k": "co"},
    {"s": "FXYD5", "t": "ITGA7", "k": "tm"},
    {"s": "FXYD5", "t": "FXYD7", "k": "tm"},
    {"s": "FXYD5", "t": "FXYD3", "k": "tm"},
    {"s": "FXYD5", "t": "FXYD4", "k": "tm"},
    {"s": "FXYD5", "t": "FXYD6", "k": "tm"},
    {"s": "FXYD5", "t": "FXYD1", "k": "tm"},
    {"s": "FXYD5", "t": "PKD2L2", "k": "tm"},
    {"s": "FXYD5", "t": "MACROD1", "k": "tm"},
    {"s": "FXYD5", "t": "CCBE1", "k": "tm"},
    {"s": "FXYD5", "t": "TRAPPC9", "k": "tm"},
    {"s": "FXYD1", "t": "FXYD4", "k": "tm"},
    {"s": "FXYD6", "t": "FXYD4", "k": "tm"},
    {"s": "FXYD4", "t": "FXYD7", "k": "tm"},
    {"s": "FXYD7", "t": "FXYD3", "k": "tm"},
    {"s": "PKD2L2", "t": "MACROD1", "k": "tm"},
    {"s": "PKD2L2", "t": "CCBE1", "k": "tm"},
    {"s": "PKD2L2", "t": "TRAPPC9", "k": "tm"},
    {"s": "MACROD1", "t": "CCBE1", "k": "tm"},
    {"s": "MACROD1", "t": "TRAPPC9", "k": "tm"},
    {"s": "CCBE1", "t": "TRAPPC9", "k": "tm"}
  ],
  "fnodes": [
    {"id": "FXYD5", "x": 0, "y": 0, "score": 1},
    {"id": "FXYD6-FXYD2", "x": 0, "y": 115, "score": 0.95},
    {"id": "FXYD4", "x": 38, "y": 109, "score": 0.9},
    {"id": "FXYD6", "x": 73, "y": 93, "score": 0.9},
    {"id": "FXYD7", "x": 100, "y": 68, "score": 0.9},
    {"id": "FXYD2", "x": 117, "y": 36, "score": 0.9},
    {"id": "FXYD1", "x": 123, "y": 0, "score": 0.9},
    {"id": "FXYD3", "x": 118, "y": -35, "score": 0.9},
    {"id": "SH2D2A", "x": 100, "y": -67, "score": 0.3},
    {"id": "SLC7A6", "x": 72, "y": -92, "score": 0.3},
    {"id": "S100A6", "x": 39, "y": -109, "score": 0.28},
    {"id": "TGFB1", "x": 0, "y": -115, "score": 0.28},
    {"id": "CAPNS1", "x": -38, "y": -109, "score": 0.25},
    {"id": "FBXL4", "x": -72, "y": -92, "score": 0.22},
    {"id": "ZNF780B", "x": -100, "y": -67, "score": 0.2},
    {"id": "PFN1", "x": -117, "y": -35, "score": 0.2},
    {"id": "PLP2", "x": -120, "y": 0, "score": 0.2},
    {"id": "TRAF3IP3", "x": -118, "y": 35, "score": 0.2},
    {"id": "NMI", "x": -100, "y": 68, "score": 0.2},
    {"id": "SLC26A6", "x": -73, "y": 93, "score": 0.2},
    {"id": "MYO1D", "x": -38, "y": 109, "score": 0.2}
  ],
  "fedges": [
    {"s": "FXYD5", "t": "MYO1D", "type": "Co-expression", "w": 0.4},
    {"s": "FXYD5", "t": "SLC26A6", "type": "Co-expression", "w": 0.45},
    {"s": "FXYD5", "t": "NMI", "type": "Co-expression", "w": 0.4},
    {"s": "FXYD5", "t": "TRAF3IP3", "type": "Co-expression", "w": 0.5},
    {"s": "FXYD5", "t": "PLP2", "type": "Co-expression", "w": 0.5},
    {"s": "FXYD5", "t": "PFN1", "type": "Co-expression", "w": 0.45},
    {"s": "FXYD5", "t": "ZNF780B", "type": "Co-expression", "w": 0.4},
    {"s": "FXYD5", "t": "FBXL4", "type": "Co-expression", "w": 0.35},
    {"s": "FXYD5", "t": "CAPNS1", "type": "Co-expression", "w": 0.4},
    {"s": "FXYD5", "t": "TGFB1", "type": "Co-expression", "w": 0.4},
    {"s": "FXYD5", "t": "SH2D2A", "type": "Co-expression", "w": 0.45},
    {"s": "FXYD5", "t": "SLC7A6", "type": "Co-expression", "w": 0.4},
    {"s": "MYO1D", "t": "SLC26A6", "type": "Co-expression", "w": 0.35},
    {"s": "MYO1D", "t": "TGFB1", "type": "Co-expression", "w": 0.4},
    {"s": "MYO1D", "t": "FBXL4", "type": "Co-expression", "w": 0.3},
    {"s": "SLC26A6", "t": "CAPNS1", "type": "Co-expression", "w": 0.4},
    {"s": "SLC26A6", "t": "TGFB1", "type": "Co-expression", "w": 0.35},
    {"s": "SLC26A6", "t": "FXYD7", "type": "Co-expression", "w": 0.25},
    {"s": "NMI", "t": "S100A6", "type": "Co-expression", "w": 0.35},
    {"s": "NMI", "t": "SH2D2A", "type": "Co-expression", "w": 0.35},
    {"s": "NMI", "t": "FBXL4", "type": "Co-expression", "w": 0.3},
    {"s": "TRAF3IP3", "t": "SH2D2A", "type": "Co-expression", "w": 0.4},
    {"s": "TRAF3IP3", "t": "SLC7A6", "type": "Co-expression", "w": 0.35},
    {"s": "PLP2", "t": "SH2D2A", "type": "Co-expression", "w": 0.35},
    {"s": "PFN1", "t": "SLC7A6", "type": "Co-expression", "w": 0.35},
    {"s": "PFN1", "t": "FXYD3", "type": "Co-expression", "w": 0.3},
    {"s": "ZNF780B", "t": "SLC7A6", "type": "Co-expression", "w": 0.35},
    {"s": "ZNF780B", "t": "CAPNS1", "type": "Co-expression", "w": 0.3},
    {"s": "FBXL4", "t": "TGFB1", "type": "Co-expression", "w": 0.35},
    {"s": "CAPNS1", "t": "TGFB1", "type": "Co-expression", "w": 0.35},
    {"s": "TGFB1", "t": "S100A6", "type": "Co-expression", "w": 0.35},
    {"s": "S100A6", "t": "SLC7A6", "type": "Co-expression", "w": 0.3},
    {"s": "SLC7A6", "t": "SH2D2A", "type": "Co-expression", "w": 0.35},
    {"s": "ZNF780B", "t": "SH2D2A", "type": "Co-expression", "w": 0.3},
    {"s": "MYO1D", "t": "CAPNS1", "type": "Co-expression", "w": 0.35},
    {"s": "FXYD5", "t": "S100A6", "type": "Co-localization", "w": 0.3},
    {"s": "FXYD5", "t": "FBXL4", "type": "Co-localization", "w": 0.3},
    {"s": "FXYD5", "t": "CAPNS1", "type": "Co-localization", "w": 0.3},
    {"s": "FXYD5", "t": "TGFB1", "type": "Co-localization", "w": 0.3},
    {"s": "TRAF3IP3", "t": "FBXL4", "type": "Co-localization", "w": 0.25},
    {"s": "NMI", "t": "CAPNS1", "type": "Co-localization", "w": 0.25},
    {"s": "PLP2", "t": "TGFB1", "type": "Co-localization", "w": 0.25},
    {"s": "FBXL4", "t": "CAPNS1", "type": "Co-localization", "w": 0.3},
    {"s": "CAPNS1", "t": "TGFB1", "type": "Co-localization", "w": 0.3},
    {"s": "TGFB1", "t": "S100A6", "type": "Co-localization", "w": 0.3},
    {"s": "PFN1", "t": "CAPNS1", "type": "Co-localization", "w": 0.25},
    {"s": "FXYD5", "t": "FXYD6-FXYD2", "type": "Shared protein domains", "w": 0.85},
    {"s": "FXYD5", "t": "FXYD4", "type": "Shared protein domains", "w": 0.85},
    {"s": "FXYD5", "t": "FXYD6", "type": "Shared protein domains", "w": 0.85},
    {"s": "FXYD5", "t": "FXYD7", "type": "Shared protein domains", "w": 0.85},
    {"s": "FXYD5", "t": "FXYD2", "type": "Shared protein domains", "w": 0.85},
    {"s": "FXYD5", "t": "FXYD1", "type": "Shared protein domains", "w": 0.85},
    {"s": "FXYD5", "t": "FXYD3", "type": "Shared protein domains", "w": 0.85},
    {"s": "FXYD6-FXYD2", "t": "FXYD4", "type": "Shared protein domains", "w": 0.75},
    {"s": "FXYD6-FXYD2", "t": "FXYD6", "type": "Shared protein domains", "w": 0.75},
    {"s": "FXYD6-FXYD2", "t": "FXYD7", "type": "Shared protein domains", "w": 0.7},
    {"s": "FXYD6-FXYD2", "t": "FXYD2", "type": "Shared protein domains", "w": 0.7},
    {"s": "FXYD6-FXYD2", "t": "FXYD1", "type": "Shared protein domains", "w": 0.7},
    {"s": "FXYD6-FXYD2", "t": "FXYD3", "type": "Shared protein domains", "w": 0.7},
    {"s": "FXYD4", "t": "FXYD6", "type": "Shared protein domains", "w": 0.75},
    {"s": "FXYD4", "t": "FXYD7", "type": "Shared protein domains", "w": 0.7},
    {"s": "FXYD4", "t": "FXYD2", "type": "Shared protein domains", "w": 0.7},
    {"s": "FXYD4", "t": "FXYD1", "type": "Shared protein domains", "w": 0.7},
    {"s": "FXYD4", "t": "FXYD3", "type": "Shared protein domains", "w": 0.7},
    {"s": "FXYD6", "t": "FXYD7", "type": "Shared protein domains", "w": 0.75},
    {"s": "FXYD6", "t": "FXYD2", "type": "Shared protein domains", "w": 0.7},
    {"s": "FXYD6", "t": "FXYD1", "type": "Shared protein domains", "w": 0.7},
    {"s": "FXYD6", "t": "FXYD3", "type": "Shared protein domains", "w": 0.7},
    {"s": "FXYD7", "t": "FXYD2", "type": "Shared protein domains", "w": 0.75},
    {"s": "FXYD7", "t": "FXYD1", "type": "Shared protein domains", "w": 0.7},
    {"s": "FXYD7", "t": "FXYD3", "type": "Shared protein domains", "w": 0.7},
    {"s": "FXYD2", "t": "FXYD1", "type": "Shared protein domains", "w": 0.75},
    {"s": "FXYD2", "t": "FXYD3", "type": "Shared protein domains", "w": 0.7},
    {"s": "FXYD1", "t": "FXYD3", "type": "Shared protein domains", "w": 0.75}
  ]
},
"vconcat": [
 {
  "hconcat": [
   {
    "width": 61, "height": 1,
    "title": {"text": "A.", "anchor": "start", "frame": "group", "dx": -20, "dy": 4.5, "fontSize": 14, "fontWeight": "bold", "offset": 4},
    "data": {"values": [{}]}, "mark": {"type": "text", "text": ""}, "encoding": {}
   },
   {
    "width": 214, "height": 290,
    "title": {"text": "OV (n=514)", "anchor": "middle", "frame": "group", "dx": -11, "dy": 2, "fontSize": 12, "offset": 5},
    "view": {"stroke": "#222222", "strokeWidth": 1},
    "layer": [
      {"data": {"name": "minor"},
       "mark": {"type": "rule", "color": "#ebebeb", "strokeWidth": 1},
       "encoding": {"x": {"field": "v", "type": "quantitative", "scale": {"domain": [-0.049, 0.344], "nice": false, "zero": false},
               "axis": {"title": "Correlation", "titleFontSize": 9, "titlePadding": 4, "values": [0, 0.1, 0.2, 0.3], "format": ".1f", "grid": true, "gridColor": "#ebebeb", "domain": false, "tickSize": 3, "labelFontSize": 8.2, "labelPadding": 1, "labelColor": "#333333"}}}},
      {"data": {"name": "cells"},
       "mark": {"type": "rule", "color": "#7f7f7f", "strokeWidth": 1},
       "encoding": {"x": {"datum": 0, "type": "quantitative", "scale": {"domain": [-0.049, 0.344], "nice": false, "zero": false},
               "axis": {"title": "Correlation", "titleFontSize": 9, "titlePadding": 4, "values": [0, 0.1, 0.2, 0.3], "format": ".1f", "grid": true, "gridColor": "#ebebeb", "domain": false, "tickSize": 3, "labelFontSize": 8.2, "labelPadding": 1, "labelColor": "#333333"}}}},
      {"data": {"name": "cells"},
       "mark": {"type": "rule", "color": "#111111", "strokeWidth": 1},
       "encoding": {
         "y": {"field": "cell", "type": "nominal", "sort": null, "scale": {"type": "point", "padding": 0.75},
               "axis": {"title": null, "labelFontSize": 8.2, "labelColor": "#1a1a1a", "tickSize": 3, "labelPadding": 2, "domain": false, "grid": true, "gridColor": "#ebebeb"}},
         "x": {"field": "cor", "type": "quantitative", "scale": {"domain": [-0.049, 0.344], "nice": false, "zero": false},
               "axis": {"title": "Correlation", "titleFontSize": 9, "titlePadding": 4, "values": [0, 0.1, 0.2, 0.3], "format": ".1f", "grid": true, "gridColor": "#ebebeb", "domain": false, "tickSize": 3, "labelFontSize": 8.2, "labelPadding": 1, "labelColor": "#333333"}},
         "x2": {"datum": 0}}},
      {"data": {"name": "cells"},
       "mark": {"type": "text", "align": "right", "baseline": "middle", "dx": -6, "dy": 1, "fontSize": 6, "color": "#555555"},
       "encoding": {
         "y": {"field": "cell", "type": "nominal", "sort": null, "scale": {"type": "point", "padding": 0.75},
               "axis": {"title": null, "labelFontSize": 8.2, "labelColor": "#1a1a1a", "tickSize": 3, "labelPadding": 2, "domain": false, "grid": true, "gridColor": "#ebebeb"}},
         "x": {"field": "cor", "type": "quantitative", "scale": {"domain": [-0.049, 0.344], "nice": false, "zero": false},
               "axis": {"title": "Correlation", "titleFontSize": 9, "titlePadding": 4, "values": [0, 0.1, 0.2, 0.3], "format": ".1f", "grid": true, "gridColor": "#ebebeb", "domain": false, "tickSize": 3, "labelFontSize": 8.2, "labelPadding": 1, "labelColor": "#333333"}},
         "text": {"field": "sig"}}},
      {"data": {"name": "cells"},
       "mark": {"type": "circle", "opacity": 1},
       "encoding": {
         "y": {"field": "cell", "type": "nominal", "sort": null, "scale": {"type": "point", "padding": 0.75},
               "axis": {"title": null, "labelFontSize": 8.2, "labelColor": "#1a1a1a", "tickSize": 3, "labelPadding": 2, "domain": false, "grid": true, "gridColor": "#ebebeb"}},
         "x": {"field": "cor", "type": "quantitative", "scale": {"domain": [-0.049, 0.344], "nice": false, "zero": false},
               "axis": {"title": "Correlation", "titleFontSize": 9, "titlePadding": 4, "values": [0, 0.1, 0.2, 0.3], "format": ".1f", "grid": true, "gridColor": "#ebebeb", "domain": false, "tickSize": 3, "labelFontSize": 8.2, "labelPadding": 1, "labelColor": "#333333"}},
         "color": {"field": "p", "type": "quantitative",
                   "scale": {"domain": [0.005, 0.46, 0.92], "range": ["#E64B35", "#A08C8C", "#56B7D6"]},
                   "legend": {"title": "P value", "orient": "none", "legendX": 221, "legendY": 75, "direction": "vertical", "gradientLength": 43, "gradientThickness": 11, "titleFontSize": 8, "labelFontSize": 7.5, "values": [0.25, 0.5, 0.75], "format": ".2f", "gradientStrokeWidth": 0, "titlePadding": 3}},
         "size": {"field": "cor", "type": "quantitative",
                  "scale": {"domain": [0, 0.33], "range": [20, 125], "clamp": true},
                  "legend": {"title": "Correlation", "orient": "none", "legendX": 221, "legendY": 136, "values": [0.1, 0.2, 0.3], "symbolFillColor": "transparent", "symbolStrokeColor": "#000000", "symbolStrokeWidth": 1, "titleFontSize": 8, "labelFontSize": 7.5, "titlePadding": 3, "rowPadding": 1}}
       }}
    ]
   },
   {
    "width": 101, "height": 1,
    "title": {"text": "B.", "anchor": "start", "frame": "group", "dx": 61, "dy": 12.5, "fontSize": 14, "fontWeight": "bold", "offset": 6},
    "data": {"values": [{}]}, "mark": {"type": "text", "text": ""}, "encoding": {}
   },
   {
    "width": 258, "height": 287,
    "title": {"text": "OV (n=514)", "anchor": "middle", "frame": "group", "dx": 13, "dy": 2, "fontSize": 12, "offset": 6},
    "view": {"stroke": "#666666", "strokeWidth": 1},
    "layer": [
      {"data": {"name": "gsva"},
       "mark": {"type": "bar"},
       "encoding": {
         "y": {"field": "name", "type": "nominal", "sort": null, "axis": null, "scale": {"paddingInner": 0.1, "paddingOuter": 0.05}},
         "x": {"field": "t", "type": "quantitative", "scale": {"domain": [-8.7, 6.9], "nice": false, "zero": false},
               "axis": {"values": [-8, -4, 0, 4], "title": ["t value of GSVA score", "HExp vs. LExp group of FXYD5"], "titleFontSize": 6.3, "titleLineHeight": 9.5, "titlePadding": 0, "titleColor": "#333333", "labelFontSize": 7, "grid": false, "domain": false, "tickSize": 3, "labelPadding": 0, "tickColor": "#555555", "labelColor": "#444444"}},
         "x2": {"datum": 0},
         "color": {"field": "grp", "type": "nominal", "scale": {"domain": ["up", "ns", "down"], "range": ["#0D4B91", "#CFCFCF", "#80CF7A"]}, "legend": null}}},
      {"data": {"values": [{"v": -1}, {"v": 1}]},
       "mark": {"type": "rule", "color": "white", "strokeDash": [3, 2], "strokeWidth": 0.8, "opacity": 0.9},
       "encoding": {"x": {"field": "v", "type": "quantitative", "scale": {"domain": [-8.7, 6.9], "nice": false, "zero": false},
               "axis": {"values": [-8, -4, 0, 4], "title": ["t value of GSVA score", "HExp vs. LExp group of FXYD5"], "titleFontSize": 6.3, "titleLineHeight": 9.5, "titlePadding": 0, "titleColor": "#333333", "labelFontSize": 7, "grid": false, "domain": false, "tickSize": 3, "labelPadding": 0, "tickColor": "#555555", "labelColor": "#444444"}}}},
      {"data": {"name": "gsva"},
       "transform": [{"filter": "datum.t > 0"}],
       "mark": {"type": "text", "align": "right", "baseline": "middle", "dx": -1, "fontSize": 5.7, "color": "#333333"},
       "encoding": {
         "y": {"field": "name", "type": "nominal", "sort": null, "axis": null},
         "x": {"datum": 0, "type": "quantitative", "scale": {"domain": [-8.7, 6.9], "nice": false, "zero": false},
               "axis": {"values": [-8, -4, 0, 4], "title": ["t value of GSVA score", "HExp vs. LExp group of FXYD5"], "titleFontSize": 6.3, "titleLineHeight": 9.5, "titlePadding": 0, "titleColor": "#333333", "labelFontSize": 7, "grid": false, "domain": false, "tickSize": 3, "labelPadding": 0, "tickColor": "#555555", "labelColor": "#444444"}},
         "text": {"field": "name"}}},
      {"data": {"name": "gsva"},
       "transform": [{"filter": "datum.t <= 0"}],
       "mark": {"type": "text", "align": "left", "baseline": "middle", "dx": 2, "fontSize": 5.7, "color": "#333333"},
       "encoding": {
         "y": {"field": "name", "type": "nominal", "sort": null, "axis": null},
         "x": {"datum": 0, "type": "quantitative", "scale": {"domain": [-8.7, 6.9], "nice": false, "zero": false},
               "axis": {"values": [-8, -4, 0, 4], "title": ["t value of GSVA score", "HExp vs. LExp group of FXYD5"], "titleFontSize": 6.3, "titleLineHeight": 9.5, "titlePadding": 0, "titleColor": "#333333", "labelFontSize": 7, "grid": false, "domain": false, "tickSize": 3, "labelPadding": 0, "tickColor": "#555555", "labelColor": "#444444"}},
         "text": {"field": "name"}}}
    ]
   }
  ],
  "spacing": 0,
  "bounds": "flush",
  "resolve": {"scale": {"color": "independent", "fill": "independent", "stroke": "independent", "strokeWidth": "independent", "size": "independent"}}
 },
 {
  "vconcat": [
   {
    "hconcat": [
     {
      "width": 12, "height": 1,
      "title": {"text": "C.", "anchor": "start", "frame": "group", "dx": -20, "dy": 3, "fontSize": 14, "fontWeight": "bold", "offset": 8},
      "data": {"values": [{}]}, "mark": {"type": "text", "text": ""}, "encoding": {}
     },
     {
      "width": 300, "height": 216,
      "title": {"text": "OV (n=514)", "anchor": "start", "frame": "group", "dx": -2, "dy": 1.5, "fontSize": 12, "offset": 6},
      "resolve": {"scale": {"y": "independent"}, "axis": {"y": "independent"}},
      "layer": [
        {"data": {"name": "ces"},
         "mark": {"type": "line", "strokeWidth": 1.1},
         "encoding": {
           "x": {"field": "rank", "type": "quantitative", "scale": {"domain": [0, 19450], "nice": false, "zero": false},
                 "axis": {"title": "Rank in Ordered Dataset", "titleFont": "Liberation Serif", "titleFontSize": 10.5, "titlePadding": 4, "titleColor": "#222222", "values": [2500, 5000, 7500, 10000, 12500, 15000, 17500], "format": "d", "labelExpr": "datum.value % 5000 == 0 ? datum.label : ''", "labelFontSize": 4.5, "labelColor": "#555555", "ticks": false, "labelPadding": 2, "grid": true, "gridColor": "#ebebeb", "domain": true, "domainColor": "#000000"}},
           "y": {"field": "es", "type": "quantitative", "scale": {"domain": [-0.09, 0.715], "range": [140, 0], "nice": false, "zero": false},
                 "axis": {"orient": "left", "title": "Running Enrichment Score", "titleFont": "Liberation Serif", "titleFontSize": 10.5, "titleAnchor": "end", "titlePadding": 1, "titleColor": "#222222", "labelFont": "Liberation Serif", "labelFontSize": 9.5, "labelColor": "#333333", "values": [0, 0.2, 0.4, 0.6], "format": ".1f", "tickSize": 2, "labelPadding": 1, "domain": true, "domainColor": "#000000", "grid": true, "gridColor": "#eeeeee"}},
           "color": {"field": "set", "type": "nominal",
                     "scale": {"domain": ["KEGG_ANTIGEN_PROCESSING_AND_PRESENTATION", "KEGG_CELL_ADHESION_MOLECULES_CAMS", "KEGG_CHEMOKINE_SIGNALING_PATHWAY", "KEGG_ECM_RECEPTOR_INTERACTION", "KEGG_JAK_STAT_SIGNALING_PATHWAY", "KEGG_TGF_BETA_SIGNALING_PATEWAY"],
                               "range": ["#F8766D", "#B79F00", "#00BA38", "#00BFC4", "#619CFF", "#F564E3"]},
                     "legend": {"title": null, "orient": "none", "legendX": 12, "legendY": 86, "labelFont": "Liberation Serif", "labelFontSize": 7.5, "labelColor": "#222222", "symbolType": "stroke", "symbolSize": 50, "symbolStrokeWidth": 1.8, "rowPadding": 0.3, "labelLimit": 400, "labelOffset": 5}}}},
        {"data": {"name": "chits"},
         "mark": {"type": "tick", "thickness": 1, "size": 3.8, "opacity": 0.9},
         "encoding": {
           "x": {"field": "r", "type": "quantitative", "scale": {"domain": [0, 19450], "nice": false, "zero": false},
                 "axis": {"title": "Rank in Ordered Dataset", "titleFont": "Liberation Serif", "titleFontSize": 10.5, "titlePadding": 4, "titleColor": "#222222", "values": [2500, 5000, 7500, 10000, 12500, 15000, 17500], "format": "d", "labelExpr": "datum.value % 5000 == 0 ? datum.label : ''", "labelFontSize": 4.5, "labelColor": "#555555", "ticks": false, "labelPadding": 2, "grid": true, "gridColor": "#ebebeb", "domain": true, "domainColor": "#000000"}},
           "y": {"field": "s", "type": "nominal", "scale": {"domain": ["B", "M", "C", "G", "Y", "R"], "range": [141, 166], "paddingInner": 0, "paddingOuter": 0.1}, "axis": null},
           "fill": {"field": "s", "type": "nominal", "scale": {"domain": ["R", "Y", "G", "C", "B", "M"], "range": ["#F8766D", "#B79F00", "#00BA38", "#00BFC4", "#619CFF", "#F564E3"]}, "legend": null}}},
        {"data": {"name": "cmet"},
         "mark": {"type": "area", "color": "#bebebe", "opacity": 1},
         "encoding": {
           "x": {"field": "rank", "type": "quantitative", "scale": {"domain": [0, 19450], "nice": false, "zero": false},
                 "axis": {"title": "Rank in Ordered Dataset", "titleFont": "Liberation Serif", "titleFontSize": 10.5, "titlePadding": 4, "titleColor": "#222222", "values": [2500, 5000, 7500, 10000, 12500, 15000, 17500], "format": "d", "labelExpr": "datum.value % 5000 == 0 ? datum.label : ''", "labelFontSize": 4.5, "labelColor": "#555555", "ticks": false, "labelPadding": 2, "grid": true, "gridColor": "#ebebeb", "domain": true, "domainColor": "#000000"}},
           "y": {"field": "m", "type": "quantitative", "scale": {"domain": [-1.11, 1.67], "range": [216, 166], "nice": false, "zero": false},
                 "axis": {"orient": "left", "title": "Ranked List Metric", "titleFont": "Liberation Serif", "titleFontSize": 10.5, "titleAnchor": "start", "titlePadding": 1, "titleColor": "#222222", "labelFont": "Liberation Serif", "labelFontSize": 9.5, "labelColor": "#333333", "values": [-1, -0.5, 0, 0.5, 1, 1.5], "format": ".1f", "tickSize": 2, "labelPadding": 1, "domain": true, "domainColor": "#000000", "grid": false}},
           "y2": {"datum": 0}}}
      ]
     },
     {
      "width": 67, "height": 1,
      "title": {"text": "D.", "anchor": "start", "frame": "group", "dx": 31, "dy": 3, "fontSize": 14, "fontWeight": "bold", "offset": 8},
      "data": {"values": [{}]}, "mark": {"type": "text", "text": ""}, "encoding": {}
     },
     {
      "width": 276, "height": 216,
      "title": {"text": "OV (n=514)", "anchor": "start", "frame": "group", "dx": -6, "dy": 1.5, "fontSize": 12, "offset": 6},
      "resolve": {"scale": {"y": "independent"}, "axis": {"y": "independent"}},
      "layer": [
        {"data": {"name": "des"},
         "mark": {"type": "line", "strokeWidth": 1.1},
         "encoding": {
           "x": {"field": "rank", "type": "quantitative", "scale": {"domain": [0, 3943], "nice": false, "zero": false},
                 "axis": {"title": "Rank in Ordered Dataset", "titleFont": "Liberation Serif", "titleFontSize": 10.5, "titlePadding": 4, "titleColor": "#222222", "values": [500, 1000, 1500, 2000, 2500, 3000, 3500], "format": "d", "labelExpr": "datum.value % 1000 == 0 ? datum.label : ''", "labelFontSize": 4.5, "labelColor": "#555555", "ticks": false, "labelPadding": 2, "grid": true, "gridColor": "#ebebeb", "domain": true, "domainColor": "#333333"}},
           "y": {"field": "es", "type": "quantitative", "scale": {"domain": [-0.08, 0.826], "range": [106, 0], "nice": false, "zero": false},
                 "axis": {"orient": "left", "title": "Running Enrichment Score", "titleFont": "Liberation Serif", "titleFontSize": 10.5, "titleAnchor": "end", "titlePadding": 1, "titleColor": "#222222", "labelFont": "Liberation Serif", "labelFontSize": 9.5, "labelColor": "#333333", "values": [0, 0.2, 0.4, 0.6, 0.8], "format": ".1f", "tickSize": 2, "labelPadding": 1, "domain": false, "grid": true, "gridColor": "#eeeeee"}},
           "color": {"field": "set", "type": "nominal",
                     "scale": {"domain": ["GO_ANTIGEN_BINDING", "GO_FC_RECEPTOR_MEDIATED_STIMULATORY_SIGNALING", "GO_HUMORAL_IMMUNE_RESPONSE_MEDIATED_BY_CIRCULATING_IMMUNOL", "GO_IMMUNOGLOBULIN_COMPLEX", "GO_T_CELL_RECEPTOR_COMPLEX"],
                               "range": ["#F8766D", "#A3A500", "#00BF7D", "#00B0F6", "#E76BF3"]},
                     "legend": {"title": null, "orient": "none", "legendX": 25, "legendY": 58, "labelFont": "Liberation Serif", "labelFontSize": 7.5, "labelColor": "#222222", "symbolType": "stroke", "symbolSize": 50, "symbolStrokeWidth": 1.8, "rowPadding": 0.2, "labelLimit": 400, "labelOffset": 5}}}},
        {"data": {"name": "dhits"},
         "mark": {"type": "tick", "thickness": 1.6, "size": 6, "opacity": 0.9},
         "encoding": {
           "x": {"field": "r", "type": "quantitative", "scale": {"domain": [0, 3943], "nice": false, "zero": false},
                 "axis": {"title": "Rank in Ordered Dataset", "titleFont": "Liberation Serif", "titleFontSize": 10.5, "titlePadding": 4, "titleColor": "#222222", "values": [500, 1000, 1500, 2000, 2500, 3000, 3500], "format": "d", "labelExpr": "datum.value % 1000 == 0 ? datum.label : ''", "labelFontSize": 4.5, "labelColor": "#555555", "ticks": false, "labelPadding": 2, "grid": true, "gridColor": "#ebebeb", "domain": true, "domainColor": "#333333"}},
           "y": {"field": "s", "type": "nominal", "scale": {"domain": ["Gn", "O", "Mg", "Rd", "Bl"], "range": [107.5, 142.5], "paddingInner": 0, "paddingOuter": 0}, "axis": null},
           "fill": {"field": "s", "type": "nominal", "scale": {"domain": ["Rd", "O", "Gn", "Bl", "Mg"], "range": ["#F8766D", "#A3A500", "#00BF7D", "#00B0F6", "#E76BF3"]}, "legend": null}}},
        {"data": {"name": "dmet"},
         "mark": {"type": "area", "color": "#bebebe", "opacity": 1},
         "encoding": {
           "x": {"field": "rank", "type": "quantitative", "scale": {"domain": [0, 3943], "nice": false, "zero": false},
                 "axis": {"title": "Rank in Ordered Dataset", "titleFont": "Liberation Serif", "titleFontSize": 10.5, "titlePadding": 4, "titleColor": "#222222", "values": [500, 1000, 1500, 2000, 2500, 3000, 3500], "format": "d", "labelExpr": "datum.value % 1000 == 0 ? datum.label : ''", "labelFontSize": 4.5, "labelColor": "#555555", "ticks": false, "labelPadding": 2, "grid": true, "gridColor": "#ebebeb", "domain": true, "domainColor": "#333333"}},
           "y": {"field": "m", "type": "quantitative", "scale": {"domain": [-12.3, 11.3], "range": [216, 145], "nice": false, "zero": false},
                 "axis": {"orient": "left", "title": "Ranked List Metric", "titleFont": "Liberation Serif", "titleFontSize": 10.5, "titleAnchor": "start", "titlePadding": 1, "titleColor": "#222222", "labelFont": "Liberation Serif", "labelFontSize": 9.5, "labelColor": "#333333", "values": [-10, -5, 0, 5, 10], "format": "d", "tickSize": 2, "labelPadding": 1, "domain": true, "domainColor": "#333333", "grid": false}},
           "y2": {"datum": 0}}}
      ]
     }
    ],
    "spacing": 0,
    "bounds": "flush",
    "resolve": {"scale": {"color": "independent", "fill": "independent", "stroke": "independent", "strokeWidth": "independent", "size": "independent"}}
   },
   {
    "hconcat": [
     {
      "width": 283, "height": 232,
      "title": {"text": "E.", "anchor": "start", "frame": "group", "dx": -20, "fontSize": 14, "fontWeight": "bold", "offset": 8},
      "view": {"fill": "#f4f3ef", "stroke": null},
      "layer": [
        {"data": {"name": "eedges"},
         "transform": [
           {"lookup": "s", "from": {"data": {"name": "enodes"}, "key": "id", "fields": ["x", "y"]}, "as": ["sx", "sy"]},
           {"lookup": "t", "from": {"data": {"name": "enodes"}, "key": "id", "fields": ["x", "y"]}, "as": ["tx", "ty"]}
         ],
         "mark": {"type": "rule"},
         "encoding": {
           "x": {"field": "sx", "type": "quantitative", "scale": {"domain": [0, 283], "nice": false, "zero": false}, "axis": null},
           "y": {"field": "sy", "type": "quantitative", "scale": {"domain": [0, 232], "nice": false, "zero": false, "reverse": true}, "axis": null},
           "x2": {"field": "tx"},
           "y2": {"field": "ty"},
           "stroke": {"field": "k", "type": "nominal", "scale": {"domain": ["ho", "co", "tm"], "range": ["#98a8f0", "#3c3c3c", "#c5db58"]}, "legend": null},
           "strokeWidth": {"field": "k", "type": "ordinal", "scale": {"domain": ["ho", "co", "tm"], "range": [3.2, 2.2, 1.0]}, "legend": null}}},
        {"data": {"name": "enodes"},
         "mark": {"type": "circle", "size": 330, "opacity": 1, "stroke": "#6b6b6b", "strokeWidth": 0.6},
         "encoding": {
           "x": {"field": "x", "type": "quantitative", "scale": {"domain": [0, 283], "nice": false, "zero": false}, "axis": null},
           "y": {"field": "y", "type": "quantitative", "scale": {"domain": [0, 232], "nice": false, "zero": false, "reverse": true}, "axis": null},
           "color": {"field": "id", "type": "nominal",
                     "scale": {"domain": ["FXYD6", "FXYD1", "FXYD4", "ITGA7", "FXYD7", "FXYD5", "FXYD3", "PKD2L2", "MACROD1", "CCBE1", "TRAPPC9"],
                               "range": ["#dcb38f", "#5fb85f", "#b5de8a", "#9d8ce3", "#bab46c", "#e0524f", "#86c2e6", "#c68a80", "#7fd8a8", "#3db3aa", "#2e46a8"]},
                     "legend": null}}},
        {"data": {"name": "enodes"},
         "mark": {"type": "text", "align": "left", "baseline": "middle", "dx": 9, "dy": -10, "fontSize": 6.3, "color": "#1a1a1a"},
         "encoding": {
           "x": {"field": "x", "type": "quantitative", "scale": {"domain": [0, 283], "nice": false, "zero": false}, "axis": null},
           "y": {"field": "y", "type": "quantitative", "scale": {"domain": [0, 232], "nice": false, "zero": false, "reverse": true}, "axis": null},
           "text": {"field": "id"}}}
      ]
     },
     {
      "width": 44, "height": 1,
      "data": {"values": [{}]}, "mark": {"type": "text", "text": ""}, "encoding": {}
     },
     {
      "width": 369, "height": 232,
      "title": {"text": "F.", "anchor": "start", "frame": "group", "dx": 23, "dy": 16, "fontSize": 14, "fontWeight": "bold", "offset": 5},
      "layer": [
        {"data": {"name": "fedges"},
         "transform": [
           {"lookup": "s", "from": {"data": {"name": "fnodes"}, "key": "id", "fields": ["x", "y"]}, "as": ["sx", "sy"]},
           {"lookup": "t", "from": {"data": {"name": "fnodes"}, "key": "id", "fields": ["x", "y"]}, "as": ["tx", "ty"]}
         ],
         "mark": {"type": "rule", "opacity": 0.55},
         "encoding": {
           "x": {"field": "sx", "type": "quantitative", "scale": {"domain": [-127, 242], "nice": false, "zero": false}, "axis": null},
           "y": {"field": "sy", "type": "quantitative", "scale": {"domain": [-121, 111], "nice": false, "zero": false}, "axis": null},
           "x2": {"field": "tx"},
           "y2": {"field": "ty"},
           "stroke": {"field": "type", "type": "nominal",
                      "scale": {"domain": ["Physical Interactions", "Co-expression", "Predicted", "Co-localization", "Pathway", "Genetic Interactions", "Shared protein domains"],
                                "range": ["#e9a3a3", "#cdb0dc", "#f4b97a", "#a3b3e3", "#91d8da", "#8fd98a", "#d3cf95"]},
                      "legend": {"title": "Networks", "orient": "none", "legendX": 275, "legendY": 91, "titleFont": "Liberation Serif", "titleFontSize": 12, "titleFontWeight": "bold", "titleColor": "#222222", "labelFont": "Liberation Serif", "labelFontSize": 7.8, "labelColor": "#444444", "symbolType": "square", "symbolSize": 10, "symbolStrokeWidth": 5, "symbolOpacity": 0.9, "rowPadding": -9.5, "titlePadding": 2, "labelOffset": 7}},
           "strokeWidth": {"field": "w", "type": "quantitative", "scale": {"domain": [0, 1], "range": [0.5, 5]}, "legend": null}}},
        {"data": {"name": "fnodes"},
         "transform": [{"filter": "datum.score >= 0.9"}],
         "mark": {"type": "circle", "size": 420, "color": "#4d4d4d", "opacity": 1, "stroke": "#3a3a3a", "strokeWidth": 0.5},
         "encoding": {
           "x": {"field": "x", "type": "quantitative", "scale": {"domain": [-127, 242], "nice": false, "zero": false}, "axis": null},
           "y": {"field": "y", "type": "quantitative", "scale": {"domain": [-121, 111], "nice": false, "zero": false}, "axis": null}}},
        {"data": {"name": "fnodes"},
         "transform": [{"filter": "datum.score < 0.9 && datum.score >= 0.25"}],
         "mark": {"type": "circle", "size": 170, "color": "#4d4d4d", "opacity": 1, "stroke": "#3a3a3a", "strokeWidth": 0.5},
         "encoding": {
           "x": {"field": "x", "type": "quantitative", "scale": {"domain": [-127, 242], "nice": false, "zero": false}, "axis": null},
           "y": {"field": "y", "type": "quantitative", "scale": {"domain": [-121, 111], "nice": false, "zero": false}, "axis": null}}},
        {"data": {"name": "fnodes"},
         "transform": [{"filter": "datum.score < 0.25"}],
         "mark": {"type": "circle", "size": 130, "color": "#4d4d4d", "opacity": 1, "stroke": "#3a3a3a", "strokeWidth": 0.5},
         "encoding": {
           "x": {"field": "x", "type": "quantitative", "scale": {"domain": [-127, 242], "nice": false, "zero": false}, "axis": null},
           "y": {"field": "y", "type": "quantitative", "scale": {"domain": [-121, 111], "nice": false, "zero": false}, "axis": null}}},
        {"data": {"name": "fnodes"},
         "mark": {"type": "text", "align": "center", "baseline": "middle", "fontSize": 4.6, "color": "white"},
         "encoding": {
           "x": {"field": "x", "type": "quantitative", "scale": {"domain": [-127, 242], "nice": false, "zero": false}, "axis": null},
           "y": {"field": "y", "type": "quantitative", "scale": {"domain": [-121, 111], "nice": false, "zero": false}, "axis": null},
           "text": {"field": "id"}}}
      ]
     }
    ],
    "spacing": 0,
    "bounds": "flush",
    "resolve": {"scale": {"color": "independent", "fill": "independent", "stroke": "independent", "strokeWidth": "independent", "size": "independent"}}
   }
  ],
  "spacing": 3,
  "resolve": {"scale": {"color": "independent", "fill": "independent", "stroke": "independent", "strokeWidth": "independent", "size": "independent"}}
 }
]
}
